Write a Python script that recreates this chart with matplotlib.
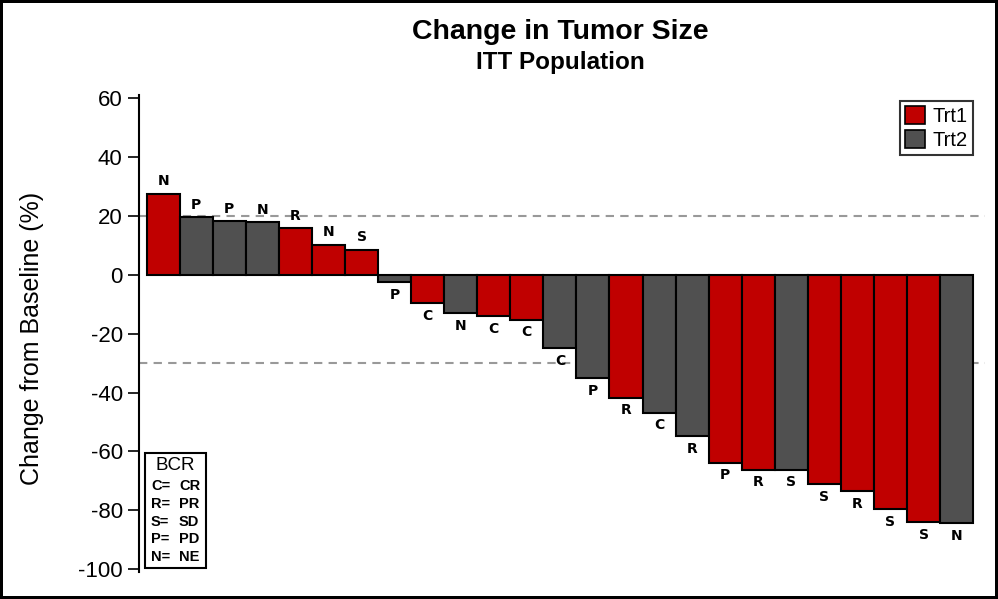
import matplotlib.pyplot as plt
from matplotlib.patches import Patch, Rectangle

plt.rcParams['font.family'] = ['Liberation Sans', 'DejaVu Sans']
plt.rcParams['axes.unicode_minus'] = False

change = [27.5, 19.5, 18.2, 17.8, 15.8, 10.1, 8.4, -2.5, -9.7, -13.0,
          -14.0, -15.3, -24.9, -35.2, -41.7, -46.8, -54.9, -63.8, -66.2, -66.2,
          -71.1, -73.5, -79.7, -84.1, -84.4]
trt = ['Trt1', 'Trt2', 'Trt2', 'Trt2', 'Trt1', 'Trt1', 'Trt1', 'Trt2', 'Trt1', 'Trt2',
       'Trt1', 'Trt1', 'Trt2', 'Trt2', 'Trt1', 'Trt2', 'Trt2', 'Trt1', 'Trt1', 'Trt2',
       'Trt1', 'Trt1', 'Trt1', 'Trt1', 'Trt2']
bcr = ['N', 'P', 'P', 'N', 'R', 'N', 'S', 'P', 'C', 'N',
       'C', 'C', 'C', 'P', 'R', 'C', 'R', 'P', 'R', 'S',
       'S', 'R', 'S', 'S', 'N']
ref_lines = [20, -30]
yticks = [60, 40, 20, 0, -20, -40, -60, -80, -100]
bcr_key = [('C=', 'CR'), ('R=', 'PR'), ('S=', 'SD'), ('P=', 'PD'), ('N=', 'NE')]

colors = {'Trt1': '#C00000', 'Trt2': '#505050'}

fig = plt.figure(figsize=(9.98, 5.99), dpi=100)
fig.patch.set_edgecolor('black')
fig.patch.set_linewidth(3)
ax = fig.add_axes([0.139, 0.045, 0.848, 0.796])

x = list(range(len(change)))
ax.bar(x, change, width=1.0, color=[colors[t] for t in trt],
       edgecolor='black', linewidth=1.5, zorder=2)

for xi, v, lab in zip(x, change, bcr):
    if v >= 0:
        ax.annotate(lab, (xi, v), xytext=(0, 4), textcoords='offset points',
                    ha='center', va='bottom', fontsize=10, fontweight='bold',
                    family='DejaVu Sans')
    else:
        ax.annotate(lab, (xi, v), xytext=(0, -4), textcoords='offset points',
                    ha='center', va='top', fontsize=10, fontweight='bold',
                    family='DejaVu Sans')

for r in ref_lines:
    ax.axhline(r, color='#999999', linestyle=(0, (4, 3)), linewidth=1.5, zorder=1)

ax.set_xlim(-0.74, 24.86)
ax.set_ylim(-101, 61)
ax.set_yticks(yticks)
ax.tick_params(axis='y', labelsize=16, length=8, width=1.2, direction='out')
ax.set_xticks([])
for s in ['top', 'right', 'bottom']:
    ax.spines[s].set_visible(False)
ax.spines['left'].set_linewidth(1.5)
ax.set_ylabel('Change from Baseline (%)', fontsize=18)
ax.yaxis.set_label_coords(-0.112, 0.49)

fig.text(0.561, 0.947, 'Change in Tumor Size', ha='center', va='center',
         fontsize=20.5, fontweight='bold')
fig.text(0.561, 0.895, 'ITT Population', ha='center', va='center',
         fontsize=17.5, fontweight='bold')

handles = [Patch(facecolor=colors[t], edgecolor='black', linewidth=1.2, label=t)
           for t in ['Trt1', 'Trt2']]
leg = ax.legend(handles=handles, loc='upper right', bbox_to_anchor=(0.993, 1.0),
                fontsize=14.5, frameon=True, fancybox=False, edgecolor='black',
                handlelength=1.0, handleheight=1.0, handletextpad=0.4,
                borderpad=0.25, labelspacing=0.2, borderaxespad=0.3)
leg.get_frame().set_linewidth(1.5)

# BCR key box
bx0, by0, bw, bh = 145, 31, 61, 115
fig.add_artist(Rectangle((bx0 / 998, by0 / 599), bw / 998, bh / 599,
                         transform=fig.transFigure, fill=False,
                         edgecolor='black', linewidth=1.5))
fig.text((bx0 + bw / 2) / 998, (599 - 465) / 599, 'BCR', ha='center',
         va='center', fontsize=13.5)
for i, (k, v) in enumerate(bcr_key):
    yy = (599 - 486 - i * 17.75) / 599
    fig.text(151 / 998, yy, k, ha='left', va='center',
             fontsize=10.5, fontweight='bold')
    fig.text(179 / 998, yy, v, ha='left', va='center',
             fontsize=10.5, fontweight='bold')

fig.savefig('out.png', dpi=100)
